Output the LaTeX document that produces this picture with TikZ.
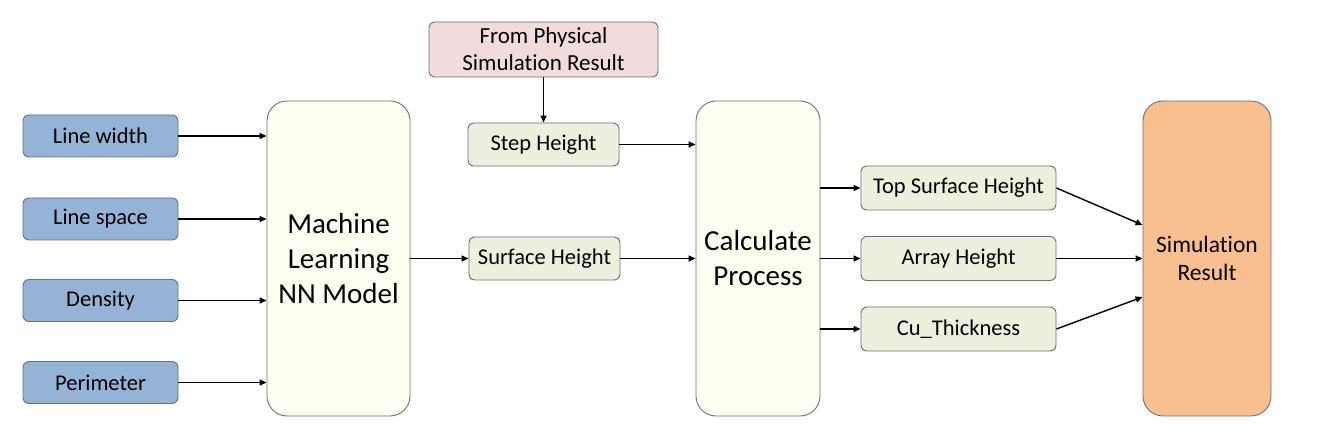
\documentclass[tikz,border=0pt]{standalone}
\usepackage{fontspec}
\setmainfont{Carlito}[Ligatures={NoCommon}]
\usetikzlibrary{arrows.meta}
\definecolor{bluef}{HTML}{95B3D7}
\definecolor{pinkf}{HTML}{F2DCDB}
\definecolor{greenf}{HTML}{EBF1DE}
\definecolor{creamf}{HTML}{FFFFF3}
\definecolor{orangef}{HTML}{F8BF90}
\definecolor{edge}{HTML}{6F6F6F}
\tikzset{
  x=1pt,y=-1pt,
  base/.style={draw=edge,line width=0.9pt,rounded corners=6pt,inner sep=0pt,align=center},
  inbox/.style={base,fill=bluef,minimum width=155pt,minimum height=42pt,font=\fontsize{22.5}{27}\selectfont},
  midbox/.style={base,fill=greenf,minimum width=151pt,minimum height=43pt,font=\fontsize{22.5}{27}\selectfont},
  outbox/.style={base,fill=greenf,minimum width=195pt,minimum height=44pt,font=\fontsize{22.5}{27}\selectfont},
  bigbox/.style={base,rounded corners=20pt,minimum height=315pt,font=\fontsize{29}{35}\selectfont},
  conn/.style={line width=1.4pt,-{Triangle[length=7pt,width=6pt]}},
}
\begin{document}
\begin{tikzpicture}
\useasboundingbox (0,0) rectangle (1331,446);
\node[inbox] (lw) at (100.5,136) {Line width};
\node[inbox] (ls) at (100.5,219) {Line space};
\node[inbox] (de) at (100.5,300.5) {Density};
\node[inbox] (pe) at (100.5,382.5) {Perimeter};
\node[bigbox,fill=creamf,minimum width=143pt] (ml) at (338.5,258.5) {Machine\\Learning\\NN Model};
\node[base,fill=pinkf,minimum width=229pt,minimum height=55pt,font=\fontsize{23}{27}\selectfont] (ph) at (543.5,49.5) {From Physical\\Simulation Result};
\node[midbox] (sh) at (543.5,144.5) {Step Height};
\node[midbox] (su) at (544.5,258.5) {Surface Height};
\node[bigbox,fill=creamf,minimum width=124pt] (cp) at (758,258.5) {Calculate\\Process};
\node[outbox] (ts) at (958.5,188) {Top Surface Height};
\node[outbox] (ah) at (958.5,258.5) {Array Height};
\node[outbox] (cu) at (958.5,329) {Cu\_Thickness};
\node[bigbox,fill=orangef,minimum width=128pt,font=\fontsize{23.5}{28}\selectfont] (sr) at (1207,258.5) {Simulation\\Result};

\draw[conn] (lw.east) -- (lw.east -| ml.west);
\draw[conn] (ls.east) -- (ls.east -| ml.west);
\draw[conn] (de.east) -- (de.east -| ml.west);
\draw[conn] (pe.east) -- (pe.east -| ml.west);
\draw[conn] (ml.east |- su.west) -- (su.west);
\draw[conn] (ph.south) -- (sh.north);
\draw[conn] (sh.east) -- (sh.east -| cp.west);
\draw[conn] (su.east) -- (su.east -| cp.west);
\draw[conn] (cp.east |- ts.west) -- (ts.west);
\draw[conn] (cp.east |- ah.west) -- (ah.west);
\draw[conn] (cp.east |- cu.west) -- (cu.west);
\draw[conn] (ts.east) -- (sr.west |- 0,225);
\draw[conn] (ah.east) -- (ah.east -| sr.west);
\draw[conn] (cu.east) -- (sr.west |- 0,297);
\end{tikzpicture}
\end{document}
